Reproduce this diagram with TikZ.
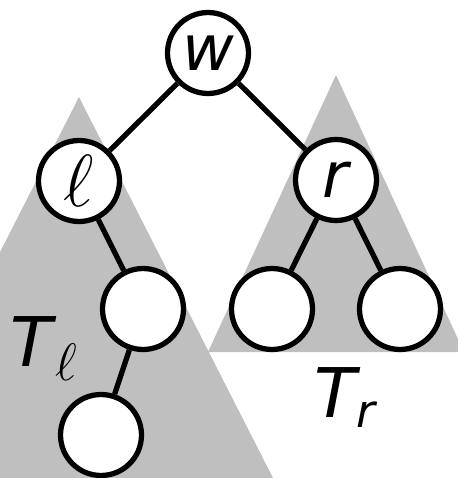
\RequirePackage{fix-cm}
\documentclass[tikz,border=0pt]{standalone}
\usepackage{fontspec}
\newfontfamily\vertexfont{DejaVu Sans}
\usepackage{tikz}

\begin{document}
\begin{tikzpicture}
    [x=0.02cm,y=-0.02cm,
    subtree/.style={fill=black!25},
    vertex/.style={circle,draw=black,fill=white,line width=3pt,minimum size=1.62cm,inner sep=0pt,font=\vertexfont\itshape\fontsize{36}{36}\selectfont},
    edge/.style={black,line width=3pt},
    treename/.style={inner sep=0pt,anchor=base west,font=\vertexfont\itshape\fontsize{39}{39}\selectfont}]

%fix the frame
\useasboundingbox (0,0) rectangle (458,478);
\clip (0,0) rectangle (458,478);

%draw the grey subtrees
\fill[subtree] (79,97) -- (273,478) -- (-115,478) -- cycle;
\fill[subtree] (336,75) -- (464,352) -- (208,352) -- cycle;

%draw the vertices
\node[vertex] (w) at (208,53) {w};
\node[vertex] (l) at (79,181) {\fontsize{42}{42}\selectfont$\ell$};
\node[vertex] (r) at (336,180) {r};
\node[vertex] (l1) at (143,309) {};
\node[vertex] (l2) at (101,435) {};
\node[vertex] (r1) at (272,309) {};
\node[vertex] (r2) at (400,309) {};

%draw the edges
\draw[edge] (w) -- (l);
\draw[edge] (w) -- (r);
\draw[edge] (l) -- (l1);
\draw[edge] (l1) -- (l2);
\draw[edge] (r) -- (r1);
\draw[edge] (r) -- (r2);

%name the subtrees
\node[treename] (Tl) at (10,366) {T\kern2pt\raisebox{-8.5pt}{\fontsize{30}{30}\selectfont$\ell$}};
\node[treename] (Tr) at (314,417) {T\raisebox{-6pt}{\fontsize{26}{26}\selectfont r}};

\end{tikzpicture}
\end{document}
